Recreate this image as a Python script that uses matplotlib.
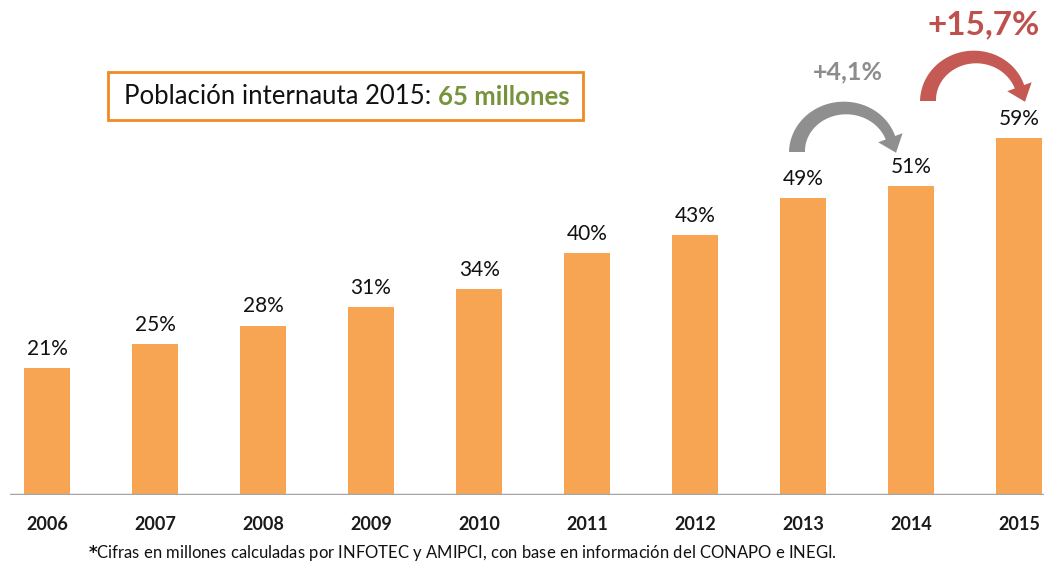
import numpy as np
import matplotlib.pyplot as plt
from matplotlib.patches import Polygon

years = ['2006', '2007', '2008', '2009', '2010', '2011', '2012', '2013', '2014', '2015']
pct = [21, 25, 28, 31, 34, 40, 43, 49, 51, 59]

plt.rcParams['font.family'] = ['Lato', 'DejaVu Sans']

W, H = 1044, 563
fig = plt.figure(figsize=(W / 100, H / 100), dpi=100)
ax = fig.add_axes([10 / W, 68 / H, 1034 / W, 495 / H])
x = list(range(len(years)))
ax.bar(x, pct, width=0.42, color='#F8A553', zorder=2)
ax.set_xlim(-0.343, 9.23)
ax.set_ylim(0, 81.8)
for s in ax.spines.values():
    s.set_visible(False)
ax.axhline(0, color='#A6A6A6', lw=2.5, zorder=3)
ax.set_yticks([])
ax.set_xticks(x, years, fontsize=13, fontweight='bold', color='#1a1a1a')
ax.tick_params(axis='x', length=0, pad=15)

for xi, v in zip(x, pct):
    ax.text(xi, v + 1.5, f'{v}%', ha='center', va='bottom', fontsize=15, color='#111111')

# title box
t1 = fig.text(124 / W, 1 - 97 / H, 'Población internauta 2015:', fontsize=18.5,
              color='#111111', va='center', ha='left')
ax.annotate('65 millones', xy=(1, 0.5), xycoords=t1, xytext=(5, 0),
            textcoords='offset points', fontsize=18.5, color='#77933C',
            fontweight='bold', va='center', ha='left')
box = plt.Rectangle((108 / W, 1 - 120 / H), 475 / W, 48 / H, transform=fig.transFigure,
                    fill=False, edgecolor='#F08A24', lw=2)
fig.add_artist(box)


def curved_arrow(cx, base_y, rx, ry, color):
    # half-ellipse arrow in pixel coords (y from top), tapered tail, head pointing down
    by = H - base_y
    th = np.linspace(np.pi, 0.33, 60)
    px = cx + rx * np.cos(th)
    py = by + ry * np.sin(th)
    dx = rx * np.sin(th)
    dy = -ry * np.cos(th)
    n = np.hypot(dx, dy)
    nx, ny = -dy / n, dx / n
    hw = np.linspace(8, 5, len(th))
    left = np.column_stack([px + nx * hw, py + ny * hw])
    right = np.column_stack([px - nx * hw, py - ny * hw])
    ex, ey = px[-1], py[-1]
    ux, uy = dx[-1] / n[-1], dy[-1] / n[-1]
    head = np.array([[ex + nx[-1] * 13, ey + ny[-1] * 13],
                     [ex + ux * 16, ey + uy * 16],
                     [ex - nx[-1] * 13, ey - ny[-1] * 13]])
    pts = np.vstack([left, head, right[::-1]])
    pts[:, 0] /= W
    pts[:, 1] /= H
    fig.add_artist(Polygon(pts, closed=True, transform=fig.transFigure,
                           facecolor=color, edgecolor='none'))


curved_arrow(845, 152, 48, 44, '#8F8F8F')
curved_arrow(975, 101, 47, 44, '#C55A55')
fig.text(848 / W, 1 - 72 / H, '+4,1%', fontsize=18, fontweight='bold', color='#8C8C8C',
         ha='center', va='center')
fig.text(984 / W, 1 - 25 / H, '+15,7%', fontsize=24, fontweight='bold', color='#C0504D',
         ha='center', va='center')

fig.text(88 / W, 1 - 553 / H,
         r'$\bf{*}$Cifras en millones calculadas por INFOTEC y AMIPCI, con base en información del CONAPO e INEGI.',
         fontsize=12, color='#111111', ha='left', va='center')

fig.savefig('out.png', dpi=100)
